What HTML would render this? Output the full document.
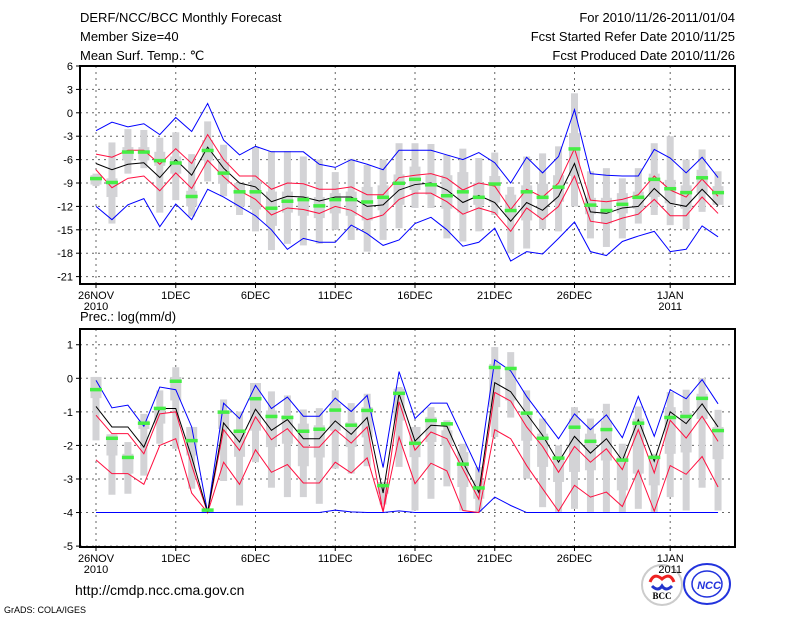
<!DOCTYPE html>
<html><head><meta charset="utf-8"><style>
body{margin:0;background:#fff;width:800px;height:618px;overflow:hidden}
svg{display:block;font-family:"Liberation Sans",sans-serif}
</style></head><body>
<svg id="c" width="800" height="618" viewBox="0 0 800 618">
<g font-size="13" fill="#000">
<text x="80" y="22">DERF/NCC/BCC Monthly Forecast</text>
<text x="80" y="41">Member Size=40</text>
<text x="80" y="60">Mean Surf. Temp.: ℃</text>
<text x="735" y="22" text-anchor="end">For 2010/11/26-2011/01/04</text>
<text x="735" y="41" text-anchor="end">Fcst Started Refer Date 2010/11/25</text>
<text x="735" y="60" text-anchor="end">Fcst Produced Date 2010/11/26</text>
<text x="80" y="321">Prec.: log(mm/d)</text>
<text x="75" y="595" font-size="14">http://cmdp.ncc.cma.gov.cn</text>
<text x="4" y="613" font-size="9">GrADS: COLA/IGES</text>
</g>
<g>
<circle cx="662" cy="585" r="20" fill="#fff" stroke="#ccc" stroke-width="2"/>
<path d="M650 582 q4 -10 12 -3 q8 -7 12 3" fill="none" stroke="#e22" stroke-width="3"/>
<path d="M652 586 q6 6 10 0 q4 6 10 0" fill="none" stroke="#23c" stroke-width="3"/>
<text x="662" y="599" font-size="9" font-weight="bold" text-anchor="middle" font-family="Liberation Serif,serif">BCC</text>
</g>
<g>
<ellipse cx="707" cy="584" rx="23" ry="20" fill="#fff" stroke="#23d" stroke-width="2"/>
<ellipse cx="707" cy="584" rx="15" ry="13" fill="none" stroke="#23d" stroke-width="1.5"/>
<text x="709" y="589" font-size="11" font-weight="bold" font-style="italic" text-anchor="middle" fill="#23d">NCC</text>
</g>
</svg>
<script>
const days=['26NOV','1DEC','6DEC','11DEC','16DEC','21DEC','26DEC','1JAN'];
const tMax=[-2.3,-1.2,-1.8,-1.4,-2.8,-0.6,-2.4,1.2,-3.5,-5.4,-4.3,-5,-5,-5,-6.6,-7,-6,-6.6,-7.3,-4.8,-4.8,-4.8,-5.4,-6,-5.1,-6.4,-9,-5.7,-7.7,-5.6,0.4,-7.8,-8,-8.1,-8.1,-4.7,-5.8,-7.7,-5.7,-8.3];
const tUp=[-5.3,-5.7,-4.8,-4.8,-6.6,-4.6,-6.5,-2.8,-6,-8.1,-8.1,-9.8,-9,-9.1,-9.8,-9.8,-9.5,-10.5,-10.5,-8.3,-8,-7.8,-8.4,-9.9,-9,-9.4,-12.4,-9.8,-10.8,-9,-4.6,-11.2,-11.4,-11.1,-10.5,-8.1,-9.9,-10.8,-8.5,-10.7];
const tMean=[-6.5,-7.3,-6.6,-6.4,-8.3,-6,-8,-4.4,-7.1,-9,-9.5,-11.4,-10.7,-10.8,-11.3,-10.8,-10.8,-12,-11.8,-9.9,-9.2,-9,-9.9,-11.5,-10.6,-11.5,-13.9,-11.5,-12.5,-10.7,-6.5,-12.7,-12.9,-12.2,-12,-9.7,-11.6,-12,-9.8,-11.9];
const tLow=[-7.3,-9.6,-8.4,-8.1,-10,-7.7,-9.7,-6.1,-8.2,-10,-11.1,-13.1,-12.2,-12.4,-12.9,-12,-12.5,-13.7,-13.1,-11.1,-10.3,-10.3,-11.4,-13,-12.2,-12.8,-15.2,-12.2,-13.7,-12,-8.1,-13.9,-14.2,-13.5,-13,-11.1,-13.2,-13.2,-10.8,-12.9];
const tMin=[-12,-13.7,-11.8,-11,-14.6,-11.7,-13.7,-9.8,-10.8,-12,-13.2,-15,-17.5,-16.1,-16.6,-16.6,-14.4,-15.5,-17,-16.3,-14.2,-13.4,-15,-17.1,-16.6,-14.8,-19,-17.8,-18.1,-16.1,-14,-17.8,-18.3,-16.5,-15.8,-15.2,-17.8,-17.5,-14.5,-15.9];
const tObs=[-8.4,-8.9,-5,-5,-6.1,-6.4,-10.7,-4.8,-7.7,-10.1,-10.1,-12.2,-11.3,-11.1,-11.9,-11.1,-11.1,-11.4,-10.8,-9,-8.5,-9.2,-10.6,-10.1,-10.8,-9.1,-12.5,-10.1,-10.8,-9.5,-4.6,-11.8,-12.5,-11.7,-10.8,-8.5,-9.7,-10.2,-8.3,-10.2];
const tBoxHi=[-7.8,-3.8,-2.1,-2.2,-3.2,-2.5,-5.3,-1.1,-4.1,-9,-4.4,-4.9,-4.9,-5.6,-6,-7.6,-5.9,-6.7,-6,-3.9,-3.9,-4,-5.4,-4.6,-5.8,-5.1,-9.5,-5.6,-5.2,-4.3,2.5,-7.5,-7.1,-8.4,-7.1,-3.9,-3,-6,-4.7,-7.5];
const tBoxLo=[-9.4,-14.2,-7.8,-7.1,-12.8,-11.2,-13.3,-8.8,-10.7,-13.1,-15.2,-17.6,-16.8,-17,-16.8,-15,-16.3,-17.8,-16.3,-14.8,-12.2,-12.2,-16.1,-16.5,-15.2,-13.1,-18,-17.4,-14.9,-15.2,-12,-16.1,-17.2,-16.1,-14.2,-13.1,-14.4,-14.9,-12.7,-11.5];
const tQHi=[-8,-8.4,-4.4,-4.4,-5,-5.6,-10,-3.5,-6.3,-9,-8.7,-10.1,-10.1,-10.7,-10.8,-10.3,-10.1,-9.5,-9.3,-7.9,-6.9,-8,-8,-7.6,-9,-8.1,-10.5,-9.3,-9.1,-8,-2.6,-10.9,-10.9,-10.3,-10.1,-7.8,-8.6,-9.3,-7.3,-9.4];
const tQLo=[-9.2,-10.8,-6.1,-6.1,-6.8,-7.8,-12,-6.1,-9.1,-12,-12.4,-14.5,-12.8,-13.2,-13.5,-12.9,-13.2,-13.8,-12.5,-11.8,-9.9,-10.5,-12.3,-12.8,-11.8,-11.5,-13.3,-13.8,-13.4,-11.4,-8.1,-13,-14.2,-12.9,-12.3,-10.8,-11.6,-12.3,-10.3,-11.8];
const pMax=[-0.06,-0.88,-0.8,-1.43,-0.26,-0.34,-1.45,-4,-0.74,-1.2,-0.21,-0.9,-0.56,-1.13,-1.13,-0.59,-0.99,-0.51,-2.66,0.2,-1.2,-0.74,-0.74,-1.75,-2.77,0.55,0.22,-0.54,-1.17,-1.8,-1.06,-1.53,-1.09,-1.77,-0.54,-1.73,-0.34,-0.61,-0.04,-0.76];
const pUp=[-1.1,-1.65,-1.65,-2.25,-1.06,-1,-2.6,-4,-1.53,-2.15,-1.15,-1.83,-1.5,-2.05,-2.05,-1.53,-1.93,-1.45,-3.98,-0.7,-2.14,-1.6,-1.8,-2.7,-3.6,-0.42,-0.68,-1.45,-2.03,-2.8,-2.03,-2.5,-2.1,-2.72,-1.53,-2.82,-1.25,-1.78,-1.13,-1.88];
const pMean=[-0.84,-1.45,-1.45,-2.05,-0.9,-0.9,-2.35,-4,-1.33,-1.9,-0.92,-1.55,-1.23,-1.8,-1.8,-1.27,-1.67,-1.17,-3.42,-0.46,-1.87,-1.4,-1.43,-2.5,-3.4,-0.13,-0.4,-1.06,-1.7,-2.5,-1.73,-2.23,-1.8,-2.45,-1.23,-2.47,-1,-1.35,-0.76,-1.45];
const pLow=[-2.43,-2.84,-2.84,-3.16,-2,-1.8,-3.42,-4,-2.5,-3.16,-2.13,-2.8,-2.57,-3.12,-3.12,-2.5,-2.82,-2.37,-3.98,-1.75,-3.14,-2.53,-2.76,-3.94,-4,-1.53,-1.8,-2.6,-3.29,-3.96,-3.19,-3.54,-3.39,-3.82,-2.74,-3.96,-2.6,-2.86,-2.33,-3.24];
const pMin=[-4,-4,-4,-4,-4,-4,-4,-4,-4,-4,-4,-4,-4,-4,-4,-3.93,-3.98,-4,-4,-3.95,-4,-4,-4,-4,-4,-3.54,-3.79,-4,-4,-4,-4,-4,-4,-4,-4,-4,-4,-4,-4,-4];
const pObs=[-0.33,-1.78,-2.35,-1.33,-0.89,-0.08,-1.85,-3.92,-1,-1.57,-0.6,-1.13,-1.16,-1.57,-1.51,-0.94,-1.39,-0.95,-3.19,-0.44,-1.93,-1.25,-1.35,-2.55,-3.26,0.33,0.3,-1.03,-1.78,-2.37,-1.45,-1.87,-1.52,-2.43,-1.33,-2.35,-1.16,-1.13,-0.59,-1.55];
const pBoxHi=[0.04,-1.67,-1.9,-1.06,-0.36,0.33,-1.45,-3.9,-0.63,-0.99,-0.14,-0.39,-0.51,-0.93,-0.89,-0.36,-0.74,-0.46,-3.09,-0.26,-1.45,-0.86,-1.25,-1.95,-2.64,0.93,0.78,-0.36,-1.2,-2,-0.86,-1.2,-0.76,-1.95,-0.84,-2.25,-0.41,-0.34,0.01,-0.94];
const pBoxLo=[-1.85,-3.47,-3.44,-2.9,-1.95,-2.1,-3.29,-4,-3.06,-3.79,-2.5,-3.26,-3.54,-3.54,-3.74,-2.69,-2.84,-2.62,-3.76,-2.64,-3.94,-3.59,-3.22,-3.94,-3.98,-1.75,-1.17,-2.99,-3.84,-3.98,-3.89,-3.98,-3.98,-3.98,-3.89,-3.98,-3.54,-3.94,-3.26,-3.94];
const pQHi=[0.04,-1.67,-2.25,-1.26,-0.86,0.04,-1.45,-3.9,-0.96,-1.56,-0.14,-0.96,-1.1,-1.35,-1.4,-0.76,-1.31,-0.86,-3.09,-0.31,-1.45,-1.15,-1.55,-2.2,-3.04,0.43,0.34,-1.01,-1.65,-2.39,-1.2,-1.65,-1.26,-2.33,-1.2,-2.3,-0.86,-1.03,-0.46,-1.45];
const pQLo=[-0.59,-2.3,-2.84,-1.51,-1.35,-0.66,-2.3,-4,-1.51,-2.34,-1.56,-2.05,-1.95,-2.62,-2.36,-1.56,-2.05,-1.76,-3.44,-1.26,-2.35,-1.9,-2,-3.24,-3.59,-0.86,-0.66,-1.86,-2.64,-3.09,-2.79,-2.74,-2.45,-3.34,-2.84,-3.19,-2.25,-2.21,-1.21,-2.41];
const tTicks=[6,3,0,-3,-6,-9,-12,-15,-18,-21];
const pTicks=[1,0,-1,-2,-3,-4,-5];

const NS='http://www.w3.org/2000/svg';
const svg=document.getElementById('c');
const X0=96,DX=15.95,L=80,R=735;
function xs(i){return X0+i*DX;}
function mk(tag,at,parent){const e=document.createElementNS(NS,tag);for(const k in at)e.setAttribute(k,at[k]);(parent||svg).appendChild(e);return e;}

function panel(name,top,bot,ys,ticks,boxHi,boxLo,qHi,qLo,mn,lo,mean,up,mx,obs){
  const g=mk('g',{});
  
  
  // grid
  ticks.forEach(t=>{const y=ys(t);
    const ln=mk('line',{x1:L,x2:R,y1:y,y2:y,stroke:'#666','stroke-dasharray':'2,4','stroke-width':1},g);
    
    
    mk('line',{x1:L-4,x2:L,y1:y,y2:y,stroke:'#000'},g);
    const tx=mk('text',{x:L-7,y:y+4,'font-size':11,'text-anchor':'end'},g);tx.textContent=t;
    
    
  });
  days.forEach((d,k)=>{const x=xs(k*5+(k==7?1:0));
    const ln=mk('line',{x1:x,x2:x,y1:top,y2:bot,stroke:'#666','stroke-dasharray':'2,4'},g);
    
    
    mk('line',{x1:x,x2:x,y1:bot,y2:bot+4,stroke:'#000'},g);
    const tx=mk('text',{x:x,y:bot+15,'font-size':11,'text-anchor':'middle'},g);tx.textContent=d;
    
    
    if(k==0||k==7){const t2=mk('text',{x:x,y:bot+26,'font-size':11,'text-anchor':'middle'},g);t2.textContent=k==0?'2010':'2011';
      
      }
  });
  // boxes
  boxHi.forEach((v,i)=>{const x=xs(i);
    const b=mk('rect',{x:x-3.5,y:ys(v),width:7,height:Math.max(1,ys(boxLo[i])-ys(v)),fill:'#d3d3d6'},g);
    
    
    const q=mk('rect',{x:x-5.5,y:ys(qHi[i]),width:11,height:Math.max(1,ys(qLo[i])-ys(qHi[i])),fill:'#d3d3d6'},g);
    
    
  });
  const line=(arr,col,nm)=>{const p=mk('polyline',{points:arr.map((v,i)=>xs(i)+','+ys(v)).join(' '),fill:'none',stroke:col,'stroke-width':1},g);
    
    };
  line(mn,'#0000ff','min-line');line(mx,'#0000ff','max-line');
  line(lo,'#ff1040','lower-line');line(up,'#ff1040','upper-line');
  line(mean,'#000','mean-line');
  obs.forEach((v,i)=>{const r=mk('rect',{x:xs(i)-6,y:ys(v)-1.5,width:12,height:3.5,fill:'#44ee44'},g);
    
    });
  const f=mk('rect',{x:L,y:top,width:R-L,height:bot-top,fill:'none',stroke:'#000','stroke-width':2},g);
  
  
}
panel('temperature-panel',66,284,v=>66+(6-v)*7.8,tTicks,tBoxHi,tBoxLo,tQHi,tQLo,tMin,tLow,tMean,tUp,tMax,tObs);
panel('precip-panel',329,547,v=>378.3-v*33.56,pTicks,pBoxHi,pBoxLo,pQHi,pQLo,pMin,pLow,pMean,pUp,pMax,pObs);
</script>
</body></html>
